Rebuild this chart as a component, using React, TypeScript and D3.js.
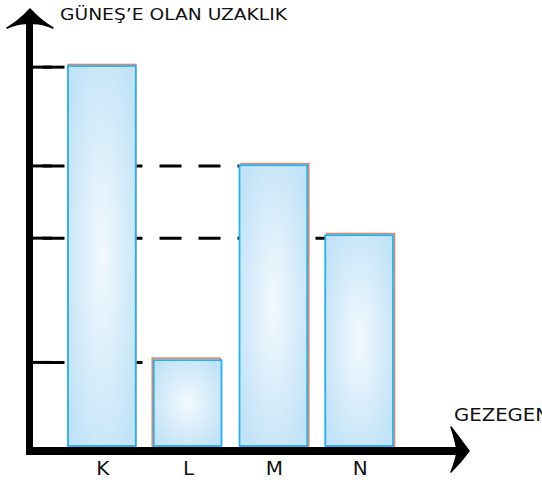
import React, { useEffect, useRef } from "react";
import * as d3 from "d3";

// planets and their distance to the sun (relative)
const planets = ["K", "L", "M", "N"];
const distances = [100, 22.6, 73.9, 55.5];
// guide lines drawn from the y axis towards each bar
const guideValues = [99.7, 22, 73.7, 54.7];
const guideTargets = ["K", "L", "M", "N"];

const yTitle = "GÜNEŞ’E OLAN UZAKLIK";
const xTitle = "GEZEGEN";

// orange shadow offset behind each bar (hand drawn look)
const shadowOffset: [number, number][] = [
  [0, -1.5],
  [-1.5, -2],
  [1.5, -1.5],
  [1.5, -1.5],
];

export default function App() {
  const ref = useRef<SVGSVGElement>(null);

  useEffect(() => {
    if (!ref.current) return;
    const svg = d3.select(ref.current);
    svg.selectAll("*").remove();

    const width = 542;
    const height = 480;
    const axisX = 29.5;
    const axisY = 451;
    const font = "'DejaVu Sans', sans-serif";

    const x = d3.scaleBand<string>().domain(planets).range([68, 393]).paddingInner(0.21).paddingOuter(0);
    const y = d3.scaleLinear().domain([0, 100]).range([446, 66]);

    const defs = svg.append("defs");
    const grad = defs.append("radialGradient").attr("id", "barFill").attr("cx", "50%").attr("cy", "50%").attr("r", "60%");
    grad.append("stop").attr("offset", "0%").attr("stop-color", "#f2f9fe");
    grad.append("stop").attr("offset", "100%").attr("stop-color", "#c2e3f7");

    svg.attr("width", width).attr("height", height);

    // guide lines (ticks + dashes), drawn under the bars
    const guides = svg.append("g");
    guideValues.forEach((v, i) => {
      const gy = y(v);
      const end = x(guideTargets[i])!;
      guides.append("line")
        .attr("x1", axisX).attr("x2", 52)
        .attr("y1", gy).attr("y2", gy)
        .attr("stroke", "#000").attr("stroke-width", 3);
      guides.append("line")
        .attr("x1", axisX).attr("x2", end)
        .attr("y1", gy).attr("y2", gy)
        .attr("stroke", "#000").attr("stroke-width", 3)
        .attr("stroke-dasharray", "22 17")
        .attr("stroke-dashoffset", 26);
    });

    // bars
    const bars = svg.append("g");
    planets.forEach((p, i) => {
      const bx = x(p)!;
      const by = y(distances[i]);
      const bw = x.bandwidth();
      const bh = y(0) - by;
      const [dx, dy] = shadowOffset[i];
      bars.append("rect")
        .attr("x", bx + dx).attr("y", by + dy)
        .attr("width", bw).attr("height", bh - dy)
        .attr("fill", "none").attr("stroke", "#f5805c").attr("stroke-width", 1.6);
      bars.append("rect")
        .attr("x", bx).attr("y", by)
        .attr("width", bw).attr("height", bh)
        .attr("fill", "url(#barFill)").attr("stroke", "#22b2f2").attr("stroke-width", 1.8);
    });

    // axes
    const axes = svg.append("g");
    axes.append("line")
      .attr("x1", axisX).attr("x2", axisX).attr("y1", 22).attr("y2", 455)
      .attr("stroke", "#000").attr("stroke-width", 7);
    axes.append("line")
      .attr("x1", 26).attr("x2", 458).attr("y1", axisY).attr("y2", axisY)
      .attr("stroke", "#000").attr("stroke-width", 8);
    axes.append("path")
      .attr("d", "M30,9 Q20,20 7,28 Q22,22 30,24 Q38,22 53,28 Q40,20 30,9 Z")
      .attr("fill", "#000").attr("stroke", "#000").attr("stroke-width", 1.5).attr("stroke-linejoin", "round");
    axes.append("path")
      .attr("d", "M469,451 Q461,440 451,427 Q456,442 457,451 Q456,460 451,472 Q461,462 469,451 Z")
      .attr("fill", "#000").attr("stroke", "#000").attr("stroke-width", 1.5).attr("stroke-linejoin", "round");

    // category labels
    svg.append("g").selectAll("text")
      .data(planets)
      .enter()
      .append("text")
      .attr("x", (d) => x(d)! + x.bandwidth() / 2 + 1)
      .attr("y", 475)
      .attr("text-anchor", "middle")
      .style("font-family", font)
      .style("font-size", "20px")
      .style("fill", "#111")
      .text((d) => d);

    // axis titles
    svg.append("text")
      .attr("x", 60).attr("y", 20)
      .attr("textLength", 227).attr("lengthAdjust", "spacingAndGlyphs")
      .style("font-family", font).style("font-size", "15px").style("fill", "#111")
      .text(yTitle);
    svg.append("text")
      .attr("x", 454).attr("y", 421)
      .attr("textLength", 96).attr("lengthAdjust", "spacingAndGlyphs")
      .style("font-family", font).style("font-size", "17px").style("fill", "#111")
      .text(xTitle);
  }, []);

  return (
    <svg
      ref={ref}
      style={{ position: "absolute", left: 0, top: 0, overflow: "hidden", background: "#fff" }}
    />
  );
}
